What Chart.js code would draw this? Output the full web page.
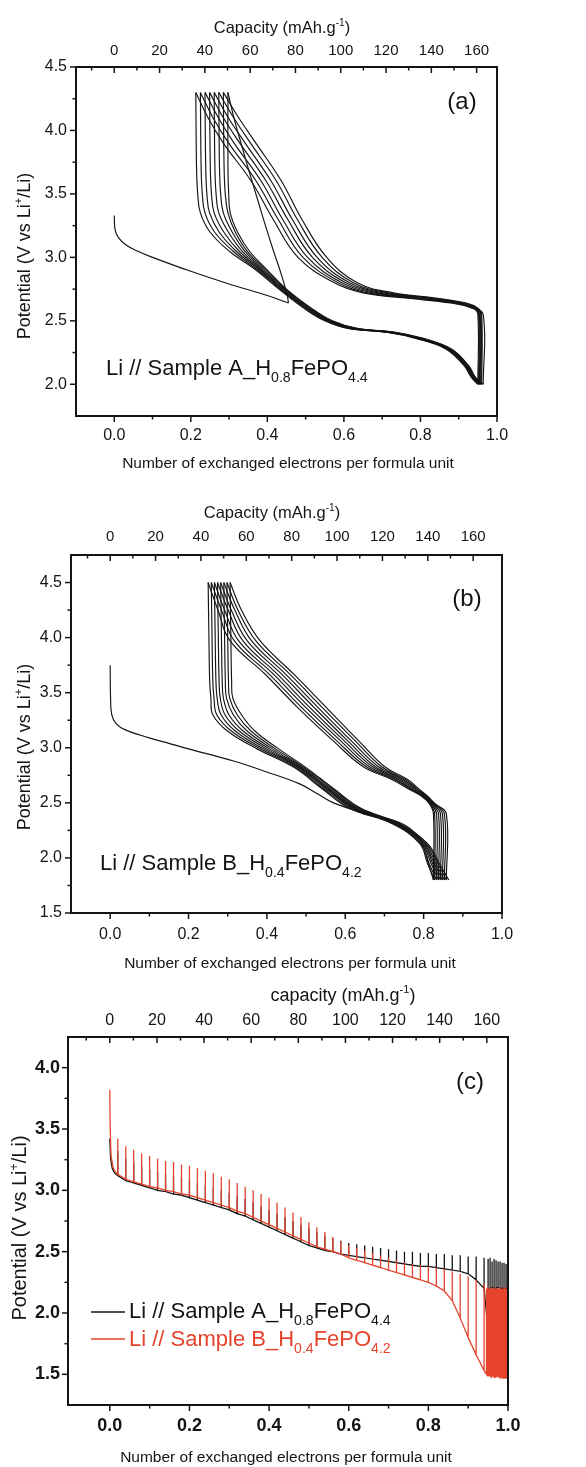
<!DOCTYPE html>
<html>
<head>
<meta charset="utf-8">
<script src="https://cdn.jsdelivr.net/npm/chart.js@4.4.0/dist/chart.umd.min.js"></script>
<style>
html, body { margin: 0; padding: 0; background: #fff; }
#wrap { position: relative; width: 586px; height: 1467px; overflow: hidden; }
#wrap canvas { position: absolute; left: 0; }
</style>
</head>
<body>
<div id="wrap">
  <canvas id="panelA" width="586" height="475" style="top:0px"></canvas>
  <canvas id="panelB" width="586" height="500" style="top:475px"></canvas>
  <canvas id="panelC" width="586" height="492" style="top:975px"></canvas>
</div>
<script>
// ---- tick values ----
const xTicks = [0, 0.2, 0.4, 0.6, 0.8, 1.0];
const xMinor = [0.1, 0.3, 0.5, 0.7, 0.9];
const capTicks = [0, 20, 40, 60, 80, 100, 120, 140, 160];
const capMinor = [-10, 10, 30, 50, 70, 90, 110, 130, 150];
const yTicksA = [2.0, 2.5, 3.0, 3.5, 4.0, 4.5];
const yMinorA = [2.25, 2.75, 3.25, 3.75, 4.25];
const yTicksB = [1.5, 2.0, 2.5, 3.0, 3.5, 4.0, 4.5];
const yMinorB = [1.75, 2.25, 2.75, 3.25, 3.75, 4.25];
const yTicksC = [1.5, 2.0, 2.5, 3.0, 3.5, 4.0];
const yMinorC = [1.75, 2.25, 2.75, 3.25, 3.75];

// ---- panel (a): Sample A, galvanostatic cycling ----
const firstDischargeA = [[0, 3.33], [0.002, 3.22], [0.01, 3.16], [0.03, 3.10], [0.06, 3.05], [0.1, 3.00],
  [0.2, 2.89], [0.3, 2.79], [0.4, 2.70], [0.455, 2.64]];
const firstChargeA = [[0.455, 2.64], [0.452, 2.70], [0.435, 2.88], [0.415, 3.06], [0.395, 3.25], [0.376, 3.44],
  [0.355, 3.65], [0.335, 3.86], [0.316, 4.06], [0.303, 4.22], [0.297, 4.30]];
// discharge curves: x at each potential level of levDisA
const levDisA = [4.3, 3.7, 3.5, 3.35, 3.2, 3.05, 2.9, 2.75, 2.6, 2.5, 2.44, 2.41, 2.36, 2.28, 2.15, 2.05, 2.0];
const disA = [
  [.297, .297, .299, .303, .322, .353, .400, .450, .515, .570, .635, .735, .810, .880, .925, .945, .964],
  [.213, .215, .218, .225, .250, .300, .370, .430, .495, .550, .610, .710, .790, .865, .913, .934, .950],
  [.225, .227, .230, .237, .262, .310, .374, .433, .498, .553, .614, .714, .793, .867, .915, .936, .952],
  [.237, .239, .242, .249, .274, .318, .379, .436, .501, .556, .617, .717, .796, .869, .916, .937, .954],
  [.249, .251, .254, .261, .286, .326, .383, .439, .504, .559, .621, .721, .799, .871, .918, .939, .956],
  [.261, .263, .266, .273, .298, .334, .387, .441, .506, .561, .624, .724, .801, .874, .920, .940, .958],
  [.273, .275, .278, .285, .308, .341, .391, .444, .509, .564, .628, .728, .804, .876, .922, .942, .960],
  [.285, .287, .290, .297, .316, .347, .396, .447, .512, .567, .631, .731, .807, .878, .923, .943, .962]
];
// charge curves: x at each potential level of levChgA
const levChgA = [2.0, 2.55, 2.60, 2.64, 2.68, 2.72, 2.80, 3.0, 3.3, 3.6, 3.9, 4.1, 4.3];
const chgA = [
  [.964, .964, .935, .880, .760, .650, .575, .480, .415, .358, .285, .245, .213],
  [.950, .950, .938, .887, .773, .663, .585, .493, .428, .371, .299, .258, .225],
  [.952, .952, .940, .893, .787, .677, .595, .505, .440, .384, .313, .272, .237],
  [.954, .954, .943, .900, .800, .690, .605, .518, .453, .397, .328, .285, .249],
  [.956, .956, .945, .907, .813, .703, .615, .530, .465, .410, .342, .298, .261],
  [.958, .958, .948, .913, .827, .717, .625, .543, .478, .424, .356, .312, .273],
  [.960, .960, .950, .920, .840, .730, .635, .555, .490, .437, .370, .325, .285]
];

// ---- panel (b): Sample B ----
const firstDischargeB = [[0, 3.75], [0.001, 3.45], [0.004, 3.30], [0.015, 3.22], [0.04, 3.16], [0.1, 3.09],
  [0.15, 3.04], [0.2, 2.99], [0.315, 2.88], [0.4, 2.78], [0.485, 2.67], [0.53, 2.58], [0.57, 2.50],
  [0.655, 2.40], [0.74, 2.32], [0.78, 2.22], [0.80, 2.10], [0.812, 1.95], [0.825, 1.80]];
const levChgB = [1.8, 2.4, 2.49, 2.56, 2.62, 2.71, 2.83, 3.06, 3.36, 3.67, 3.97, 4.25, 4.5];
const chgB = [
  [.825, .825, .815, .795, .765, .720, .645, .570, .480, .395, .306, .275, .250],
  [.828, .828, .817, .797, .769, .726, .653, .579, .490, .405, .317, .284, .258],
  [.833, .833, .819, .799, .772, .731, .661, .589, .501, .416, .328, .292, .266],
  [.838, .838, .821, .801, .776, .737, .669, .598, .511, .426, .339, .301, .274],
  [.843, .843, .824, .804, .779, .743, .676, .607, .522, .437, .350, .309, .282],
  [.848, .848, .826, .806, .783, .749, .684, .616, .532, .447, .361, .318, .290],
  [.853, .853, .828, .808, .786, .754, .692, .626, .543, .458, .372, .326, .298],
  [.858, .858, .830, .810, .790, .760, .700, .635, .553, .468, .383, .335, .306]
];
const levDisB = [4.5, 4.0, 3.6, 3.45, 3.3, 3.15, 2.99, 2.82, 2.63, 2.45, 2.31, 2.13, 1.95, 1.8];
const disB = [
  [.250, .252, .254, .257, .262, .300, .375, .470, .540, .610, .720, .790, .810, .828],
  [.258, .260, .262, .265, .272, .310, .383, .474, .544, .614, .723, .793, .814, .833],
  [.266, .268, .270, .273, .283, .320, .391, .479, .549, .619, .726, .796, .819, .838],
  [.274, .276, .278, .281, .293, .330, .399, .483, .553, .623, .729, .799, .823, .843],
  [.282, .284, .286, .289, .303, .340, .406, .487, .557, .627, .731, .801, .827, .848],
  [.290, .292, .294, .297, .314, .350, .414, .491, .561, .631, .734, .804, .831, .853],
  [.298, .300, .302, .305, .324, .360, .422, .496, .566, .636, .737, .807, .836, .858],
  [.306, .308, .310, .313, .335, .370, .430, .500, .570, .640, .740, .810, .840, .864]
];

// ---- panel (c): intermittent discharge, both samples ----
const startA = [[0, 3.42], [0.002, 3.26], [0.006, 3.18], [0.012, 3.14], [0.02, 3.12]];
const startB = [[0, 3.82], [0.001, 3.50], [0.003, 3.28], [0.008, 3.19], [0.014, 3.15], [0.02, 3.13]];
const pulseX = [0.02, 0.04, 0.06, 0.08, 0.10, 0.12, 0.14, 0.16, 0.18, 0.20, 0.22, 0.24, 0.26, 0.28, 0.30,
  0.32, 0.34, 0.36, 0.38, 0.40, 0.42, 0.44, 0.46, 0.48, 0.50, 0.52, 0.54, 0.56, 0.58, 0.60, 0.62, 0.64,
  0.66, 0.68, 0.70, 0.72, 0.74, 0.76, 0.78, 0.80, 0.82, 0.84, 0.86, 0.88, 0.90, 0.92, 0.94];
const baseA = [3.12, 3.08, 3.06, 3.04, 3.02, 3.00, 2.99, 2.97, 2.96, 2.94, 2.92, 2.90, 2.88, 2.86, 2.84,
  2.81, 2.79, 2.76, 2.73, 2.70, 2.67, 2.64, 2.61, 2.58, 2.55, 2.53, 2.51, 2.50, 2.48, 2.47, 2.46, 2.45,
  2.44, 2.43, 2.42, 2.41, 2.40, 2.39, 2.38, 2.38, 2.37, 2.36, 2.35, 2.34, 2.32, 2.27, 2.20];
const peakA = [3.32, 3.26, 3.22, 3.19, 3.17, 3.15, 3.13, 3.11, 3.10, 3.08, 3.06, 3.04, 3.02, 3.00, 2.98,
  2.95, 2.93, 2.90, 2.87, 2.84, 2.81, 2.78, 2.75, 2.72, 2.69, 2.66, 2.63, 2.61, 2.59, 2.57, 2.56, 2.55,
  2.54, 2.53, 2.52, 2.51, 2.50, 2.50, 2.49, 2.49, 2.48, 2.48, 2.47, 2.47, 2.46, 2.46, 2.45];
const baseB = [3.13, 3.09, 3.07, 3.05, 3.03, 3.02, 3.00, 2.99, 2.97, 2.96, 2.94, 2.92, 2.90, 2.88, 2.86,
  2.83, 2.81, 2.78, 2.75, 2.72, 2.69, 2.66, 2.63, 2.60, 2.57, 2.54, 2.52, 2.50, 2.48, 2.45, 2.43, 2.41,
  2.39, 2.37, 2.35, 2.33, 2.31, 2.29, 2.27, 2.25, 2.22, 2.18, 2.10, 1.96, 1.80, 1.66, 1.53];
const peakB = [3.42, 3.36, 3.33, 3.30, 3.28, 3.26, 3.24, 3.23, 3.21, 3.20, 3.18, 3.16, 3.14, 3.11, 3.09,
  3.06, 3.03, 3.00, 2.97, 2.94, 2.90, 2.86, 2.82, 2.78, 2.74, 2.70, 2.66, 2.62, 2.58, 2.55, 2.53, 2.51,
  2.49, 2.47, 2.45, 2.43, 2.41, 2.40, 2.39, 2.38, 2.37, 2.36, 2.34, 2.32, 2.30, 2.27, 2.24];
const tailXA = [.950, .955, .960, .965, .970, .975, .980, .985, .990, .995, .999];
const tailBaseA = [1.86, 2.20, 2.21, 2.20, 2.20, 2.21, 2.20, 2.20, 2.20, 2.20, 2.20];
const tailPeakA = [2.44, 2.45, 2.42, 2.44, 2.43, 2.42, 2.42, 2.41, 2.41, 2.40, 2.40];
const tailXB = [.946, .949, .952, .955, .958, .961, .964, .967, .970, .973, .976, .979, .982, .985, .988,
  .991, .994, .997, .999];
const tailBaseB = [1.50, 1.49, 1.49, 1.49, 1.48, 1.49, 1.48, 1.48, 1.48, 1.49, 1.48, 1.48, 1.47, 1.48,
  1.47, 1.47, 1.47, 1.47, 1.47];
const tailPeakB = [2.20, 2.21, 2.20, 2.20, 2.21, 2.20, 2.20, 2.21, 2.20, 2.20, 2.20, 2.21, 2.20, 2.20,
  2.20, 2.21, 2.20, 2.20, 2.20];

// ---- look ----
const FONT = '"Liberation Sans", Arial, Helvetica, sans-serif';
const RED = '#e5432b';
const INK = '#141414';

function pts(list) { return list.map(p => ({ x: p[0], y: p[1] })); }
function pairs(xs, levels) { return xs.map((x, i) => ({ x: x, y: levels[i] })); }
function pulses(xs, base, peak) {
  const out = [];
  xs.forEach((x, i) => {
    out.push({ x: x, y: base[i] }, { x: x, y: peak[i] }, { x: x, y: base[i] });
  });
  return out;
}

function capSegs(word, size) {
  return [{ t: word + ' (mAh.g', s: size }, { t: '-1', s: size * 0.62, dy: -size * 0.42 }, { t: ')', s: size }];
}
function potSegs(size) {
  return [{ t: 'Potential (V vs Li', s: size }, { t: '+', s: size * 0.62, dy: -size * 0.42 }, { t: '/Li)', s: size }];
}
function sampleSegs(name, h, o, size) {
  return [{ t: 'Li // Sample ' + name + '_H', s: size }, { t: h, s: size * 0.64, dy: size * 0.3 },
    { t: 'FePO', s: size }, { t: o, s: size * 0.64, dy: size * 0.3 }];
}
const xTitle = 'Number of exchanged electrons per formula unit';

const panels = {
  panelA: {
    top: 0, h: 475, left: 76, right: 497, plotTop: 67, plotBottom: 416,
    xMin: -0.1, factor: 169, yMin: 1.75, yMax: 4.5, yTicks: yTicksA, yMinor: yMinorA,
    tickSize: 16, tickWeight: 'normal', capSize: 15, padX: 10, padCap: 7, padY: 9,
    texts: [
      { segs: capSegs('Capacity', 16.5), x: 282, y: 33, align: 'center' },
      { segs: [{ t: xTitle, s: 15.5 }], x: 288, y: 468, align: 'center' },
      { segs: potSegs(18), x: 30, y: 256, align: 'center', rot: true },
      { segs: [{ t: '(a)', s: 24 }], x: 462, y: 109, align: 'center' },
      { segs: sampleSegs('A', '0.8', '4.4', 22), x: 106, y: 375, align: 'left' }
    ]
  },
  panelB: {
    top: 475, h: 500, left: 71, right: 502, plotTop: 80, plotBottom: 438,
    xMin: -0.1, factor: 172.7, yMin: 1.5, yMax: 4.75, yTicks: yTicksB, yMinor: yMinorB,
    tickSize: 16, tickWeight: 'normal', capSize: 15, padX: 12, padCap: 9, padY: 9,
    texts: [
      { segs: capSegs('Capacity', 16.5), x: 272, y: 518, align: 'center' },
      { segs: [{ t: xTitle, s: 15.5 }], x: 290, y: 968, align: 'center' },
      { segs: potSegs(18), x: 30, y: 747, align: 'center', rot: true },
      { segs: [{ t: '(b)', s: 24 }], x: 467, y: 606, align: 'center' },
      { segs: sampleSegs('B', '0.4', '4.2', 22), x: 100, y: 870, align: 'left' }
    ]
  },
  panelC: {
    top: 975, h: 492, left: 68, right: 508, plotTop: 62, plotBottom: 430,
    xMin: -0.105, factor: 169, yMin: 1.25, yMax: 4.25, yTicks: yTicksC, yMinor: yMinorC,
    tickSize: 18, tickWeight: 'bold', capSize: 16, padX: 10, padCap: 7, padY: 8,
    texts: [
      { segs: capSegs('capacity', 18), x: 343, y: 1001, align: 'center' },
      { segs: [{ t: xTitle, s: 15.5 }], x: 286, y: 1462, align: 'center' },
      { segs: potSegs(20), x: 26, y: 1228, align: 'center', rot: true },
      { segs: [{ t: '(c)', s: 24 }], x: 470, y: 1089, align: 'center' },
      { segs: sampleSegs('A', '0.8', '4.4', 22), x: 129, y: 1318, align: 'left' },
      { segs: sampleSegs('B', '0.4', '4.2', 22), x: 129, y: 1346, align: 'left', color: RED }
    ],
    legend: [{ y: 1312, color: INK }, { y: 1339, color: RED }]
  }
};

function drawRich(ctx, item) {
  let w = 0;
  item.segs.forEach(sg => { ctx.font = sg.s + 'px ' + FONT; w += ctx.measureText(sg.t).width; });
  ctx.save();
  ctx.translate(item.x, item.y);
  if (item.rot) ctx.rotate(-Math.PI / 2);
  let cx = item.align === 'center' ? -w / 2 : 0;
  ctx.fillStyle = item.color || INK;
  ctx.textAlign = 'left';
  ctx.textBaseline = 'alphabetic';
  item.segs.forEach(sg => {
    ctx.font = sg.s + 'px ' + FONT;
    ctx.fillText(sg.t, cx, sg.dy || 0);
    cx += ctx.measureText(sg.t).width;
  });
  ctx.restore();
}

const decorPlugin = {
  id: 'decor',
  afterDraw(chart) {
    const p = panels[chart.canvas.id];
    const ctx = chart.ctx, a = chart.chartArea;
    const sx = chart.scales.x, sy = chart.scales.y, sc = chart.scales.cap;
    const seg = (x1, y1, x2, y2) => { ctx.beginPath(); ctx.moveTo(x1, y1); ctx.lineTo(x2, y2); ctx.stroke(); };
    ctx.save();
    ctx.strokeStyle = INK;
    ctx.lineWidth = 1.5;
    xTicks.forEach(v => { const px = sx.getPixelForValue(v); seg(px, a.bottom, px, a.bottom + 6); });
    xMinor.forEach(v => { const px = sx.getPixelForValue(v); seg(px, a.bottom, px, a.bottom + 3.5); });
    capTicks.forEach(v => {
      if (v < sc.min || v > sc.max) return;
      const px = sc.getPixelForValue(v); seg(px, a.top, px, a.top + 6);
    });
    capMinor.forEach(v => {
      if (v < sc.min || v > sc.max) return;
      const px = sc.getPixelForValue(v); seg(px, a.top, px, a.top + 3.5);
    });
    p.yTicks.forEach(v => { const py = sy.getPixelForValue(v); seg(a.left - 6, py, a.left, py); });
    p.yMinor.forEach(v => { const py = sy.getPixelForValue(v); seg(a.left - 3.5, py, a.left, py); });
    ctx.lineWidth = 2;
    ctx.strokeRect(a.left, a.top, a.right - a.left, a.bottom - a.top);

    ctx.translate(0, -p.top);
    (p.legend || []).forEach(l => {
      ctx.strokeStyle = l.color;
      ctx.lineWidth = 1.6;
      seg(91, l.y, 125, l.y);
    });
    p.texts.forEach(item => drawRich(ctx, item));
    ctx.restore();
  }
};

function makeChart(id, datasets) {
  const p = panels[id];
  const tickFont = { family: FONT, size: p.tickSize, weight: p.tickWeight };
  const noGrid = { display: false, drawTicks: false };
  return new Chart(document.getElementById(id), {
    type: 'scatter',
    data: { datasets: datasets },
    options: {
      responsive: false,
      animation: false,
      devicePixelRatio: 1,
      layout: { padding: { left: 0, right: 586 - p.right, top: 0, bottom: 0 } },
      plugins: { legend: { display: false }, tooltip: { enabled: false } },
      elements: { point: { radius: 0 } },
      scales: {
        x: {
          type: 'linear', position: 'bottom', min: p.xMin, max: 1.0,
          grid: noGrid, border: { display: false },
          afterBuildTicks: s => { s.ticks = xTicks.map(v => ({ value: v })); },
          afterFit: s => { s.height = p.h - p.plotBottom; },
          ticks: { font: tickFont, color: INK, padding: p.padX, maxRotation: 0, autoSkip: false,
            callback: v => Number(v).toFixed(1) }
        },
        cap: {
          type: 'linear', axis: 'x', position: 'top', min: p.xMin * p.factor, max: p.factor,
          grid: noGrid, border: { display: false },
          afterBuildTicks: s => { s.ticks = capTicks.map(v => ({ value: v })); },
          afterFit: s => { s.height = p.plotTop; },
          ticks: { font: { family: FONT, size: p.capSize }, color: INK, padding: p.padCap, maxRotation: 0,
            autoSkip: false, callback: v => String(v) }
        },
        y: {
          type: 'linear', position: 'left', min: p.yMin, max: p.yMax,
          grid: noGrid, border: { display: false },
          afterBuildTicks: s => { s.ticks = p.yTicks.map(v => ({ value: v })); },
          afterFit: s => { s.width = p.left; },
          ticks: { font: tickFont, color: INK, padding: p.padY, autoSkip: false,
            callback: v => Number(v).toFixed(1) }
        }
      }
    },
    plugins: [decorPlugin]
  });
}

// one smooth dataset per charge or discharge branch
function curveSets(curves, color) {
  return curves.map(c => ({
    data: c, showLine: true, pointRadius: 0, fill: false,
    borderWidth: 1.15, borderColor: color, tension: 0.4
  }));
}

const curvesA = [pts(firstDischargeA), pts(firstChargeA),
  ...disA.map(xs => pairs(xs, levDisA)), ...chgA.map(xs => pairs(xs, levChgA))];
const curvesB = [pts(firstDischargeB),
  ...disB.map(xs => pairs(xs, levDisB)), ...chgB.map(xs => pairs(xs, levChgB))];

makeChart('panelA', curveSets(curvesA, INK));
makeChart('panelB', curveSets(curvesB, INK));

makeChart('panelC', [
  {
    label: 'Li // Sample A_H0.8FePO4.4',
    data: [...pts(startA), ...pulses(pulseX, baseA, peakA), ...pulses(tailXA, tailBaseA, tailPeakA)],
    showLine: true, pointRadius: 0, fill: false, borderWidth: 1.3, borderColor: INK, order: 1
  },
  {
    label: 'Li // Sample B_H0.4FePO4.2',
    data: [...pts(startB), ...pulses(pulseX, baseB, peakB), ...pulses(tailXB, tailBaseB, tailPeakB)],
    showLine: true, pointRadius: 0, fill: false, borderWidth: 1.3, borderColor: RED, order: 0
  }
]);
</script>
</body>
</html>
